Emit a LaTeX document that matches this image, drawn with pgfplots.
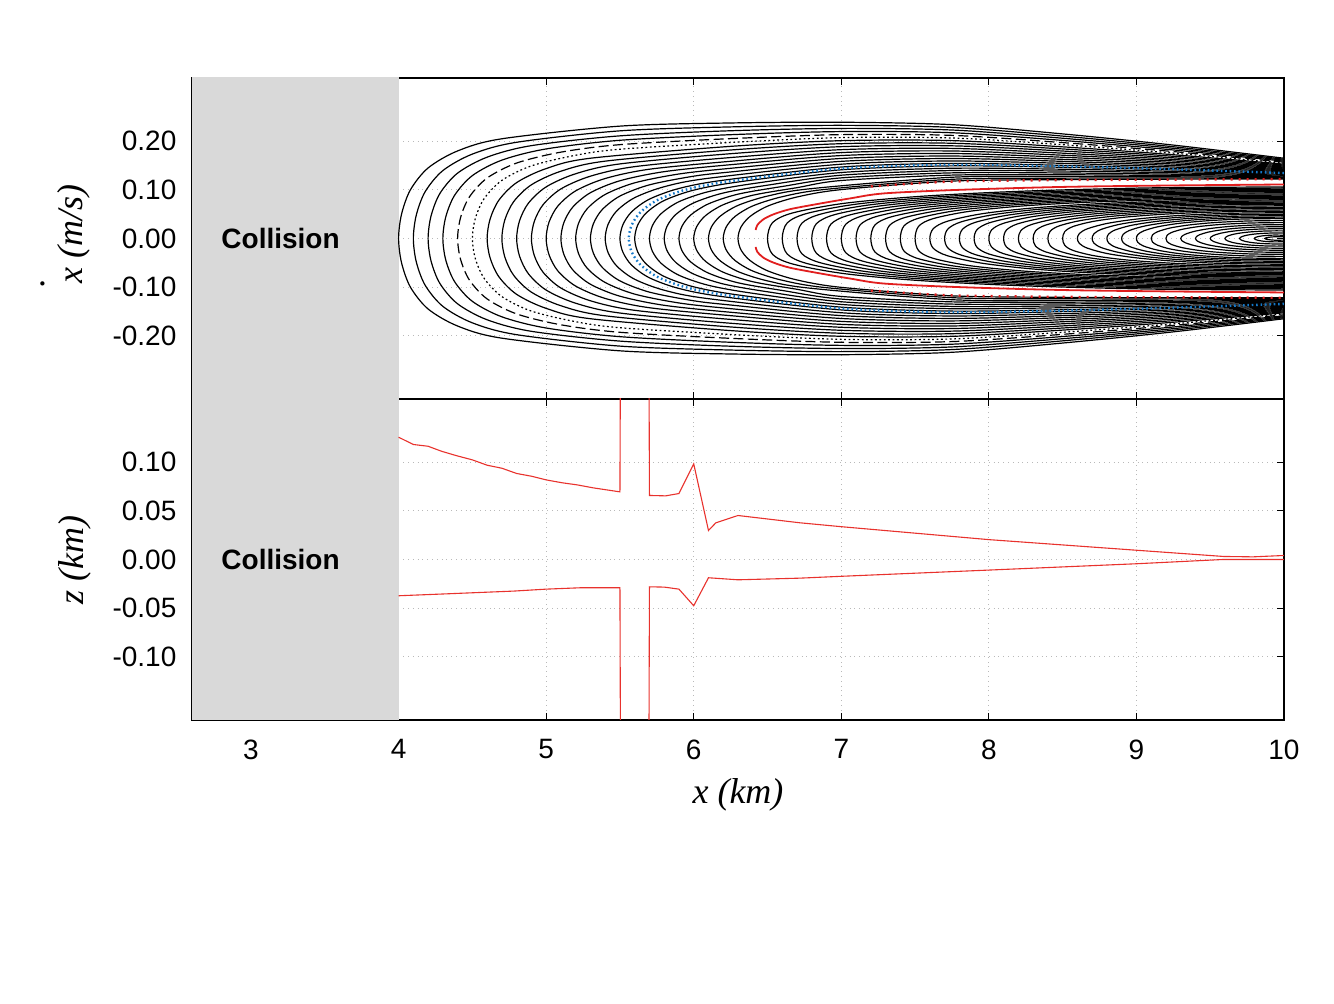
\documentclass[border=0pt]{standalone}
\usepackage{fontspec}
\setmainfont{Liberation Sans}
\newfontfamily\tnr{Liberation Serif}
\usepackage{pgfplots}
\pgfplotsset{compat=1.18}
\definecolor{collgray}{RGB}{217,217,217}
\definecolor{sepred}{RGB}{225,30,30}
\definecolor{blu}{RGB}{20,120,200}
\definecolor{zred}{RGB}{232,50,45}
\pgfplotsset{
 panel/.style={scale only axis, width=546pt, height=160.5pt, xmin=2.6, xmax=10,
   xtick={3,4,5,6,7,8,9,10}, grid=major,
   grid style={dotted, gray!55, line width=0.5pt},
   major tick length=3.5pt, tick style={black, line width=0.5pt},
   axis line style={line width=0.7pt},
   tick label style={font=\fontsize{14}{16}\selectfont},
   yticklabel style={xshift=-4.3pt}, xticklabel style={yshift=-6.3pt}},
 oc/.style={black, line width=0.6pt, smooth, no markers},
}
\begin{document}
\begin{tikzpicture}
\path (0,0) rectangle (667pt,502pt);
% ---------------- top panel ----------------
\begin{axis}[panel, at={(96pt,302.5pt)}, anchor=south west,
  ymin=-0.33, ymax=0.33, ytick={-0.2,-0.1,0,0.1,0.2},
  yticklabels={-0.20,-0.10,0.00,0.10,0.20}, xticklabels={}]
\addplot[fill=collgray, draw=none] coordinates {(2.5,-1) (4,-1) (4,1) (2.5,1)};
% outer family
\addplot[oc] coordinates {(10,0.165) (9.25,0.192) (8.5,0.215) (7.75,0.234) (7,0.239) (6.25,0.2375) (5.5,0.231) (4.7,0.205) (4.4,0.18) (4.2,0.145) (4.08,0.1) (4.02,0.05) (4,0) (4.02,-0.05) (4.08,-0.1) (4.2,-0.145) (4.4,-0.18) (4.7,-0.205) (5.5,-0.231) (6.25,-0.2375) (7,-0.239) (7.75,-0.234) (8.5,-0.215) (9.25,-0.192) (10,-0.165)};
\addplot[oc] coordinates {(10,0.1629) (9.25,0.1886) (8.5,0.2105) (7.75,0.2284) (7,0.2326) (6.25,0.2294) (5.5,0.2213) (4.8,0.1978) (4.5,0.1735) (4.3,0.1396) (4.18,0.0962) (4.12,0.0482) (4.1,0) (4.12,-0.0482) (4.18,-0.0962) (4.3,-0.1396) (4.5,-0.1735) (4.8,-0.1978) (5.5,-0.2213) (6.25,-0.2294) (7,-0.2326) (7.75,-0.2284) (8.5,-0.2105) (9.25,-0.1886) (10,-0.1629)};
\addplot[oc] coordinates {(10,0.1609) (9.25,0.1854) (8.5,0.2061) (7.75,0.2230) (7,0.2263) (6.25,0.2215) (5.5,0.2110) (4.9,0.1909) (4.6,0.1672) (4.4,0.1344) (4.28,0.0926) (4.22,0.0464) (4.2,0) (4.22,-0.0464) (4.28,-0.0926) (4.4,-0.1344) (4.6,-0.1672) (4.9,-0.1909) (5.5,-0.2110) (6.25,-0.2215) (7,-0.2263) (7.75,-0.2230) (8.5,-0.2061) (9.25,-0.1854) (10,-0.1609)};
\addplot[oc] coordinates {(10,0.1589) (9.25,0.1820) (8.5,0.2016) (7.75,0.2174) (7,0.2198) (6.25,0.2134) (5.5,0.2019) (5.0,0.1841) (4.7,0.1611) (4.5,0.1293) (4.38,0.0890) (4.32,0.0447) (4.3,0) (4.32,-0.0447) (4.38,-0.0890) (4.5,-0.1293) (4.7,-0.1611) (5.0,-0.1841) (5.5,-0.2019) (6.25,-0.2134) (7,-0.2198) (7.75,-0.2174) (8.5,-0.2016) (9.25,-0.1820) (10,-0.1589)};
\addplot[oc, dash pattern=on 5pt off 2.2pt] coordinates {(10,0.1568) (9.25,0.1787) (8.5,0.1971) (7.75,0.2120) (7,0.2135) (6.25,0.2053) (5.5,0.1929) (5.1,0.1775) (4.8,0.1551) (4.6,0.1243) (4.48,0.0855) (4.42,0.0430) (4.4,0) (4.42,-0.0430) (4.48,-0.0855) (4.6,-0.1243) (4.8,-0.1551) (5.1,-0.1775) (5.5,-0.1929) (6.25,-0.2053) (7,-0.2135) (7.75,-0.2120) (8.5,-0.1971) (9.25,-0.1787) (10,-0.1568)};
\addplot[oc, dash pattern=on 0.9pt off 1.3pt] coordinates {(10,0.1549) (9.25,0.1755) (8.5,0.1928) (7.75,0.2066) (7,0.2074) (6.25,0.1974) (5.5,0.1835) (5.2,0.1711) (4.9,0.1493) (4.7,0.1195) (4.58,0.0821) (4.52,0.0413) (4.5,0) (4.52,-0.0413) (4.58,-0.0821) (4.7,-0.1195) (4.9,-0.1493) (5.2,-0.1711) (5.5,-0.1835) (6.25,-0.1974) (7,-0.2074) (7.75,-0.2066) (8.5,-0.1928) (9.25,-0.1755) (10,-0.1549)};
\addplot[oc] coordinates {(10,0.1528) (9.25,0.1722) (8.5,0.1884) (7.75,0.2012) (7,0.2011) (6.25,0.1894) (5.3,0.1650) (5.0,0.1437) (4.8,0.1149) (4.68,0.0789) (4.62,0.0398) (4.6,0) (4.62,-0.0398) (4.68,-0.0789) (4.8,-0.1149) (5.0,-0.1437) (5.3,-0.1650) (6.25,-0.1894) (7,-0.2011) (7.75,-0.2012) (8.5,-0.1884) (9.25,-0.1722) (10,-0.1528)};
\addplot[oc] coordinates {(10,0.1509) (9.25,0.1690) (8.5,0.1841) (7.75,0.1958) (7,0.1949) (6.25,0.1819) (5.4,0.1590) (5.1,0.1383) (4.9,0.1104) (4.78,0.0758) (4.72,0.0383) (4.7,0) (4.72,-0.0383) (4.78,-0.0758) (4.9,-0.1104) (5.1,-0.1383) (5.4,-0.1590) (6.25,-0.1819) (7,-0.1949) (7.75,-0.1958) (8.5,-0.1841) (9.25,-0.1690) (10,-0.1509)};
\addplot[oc] coordinates {(10,0.1489) (9.25,0.1658) (8.5,0.1798) (7.75,0.1905) (7,0.1888) (6.25,0.1743) (5.5,0.1533) (5.2,0.1331) (5.0,0.1061) (4.88,0.0727) (4.82,0.0368) (4.8,0) (4.82,-0.0368) (4.88,-0.0727) (5.0,-0.1061) (5.2,-0.1331) (5.5,-0.1533) (6.25,-0.1743) (7,-0.1888) (7.75,-0.1905) (8.5,-0.1798) (9.25,-0.1658) (10,-0.1489)};
\addplot[oc] coordinates {(10,0.1469) (9.25,0.1625) (8.5,0.1754) (7.75,0.1852) (7,0.1826) (6.25,0.1664) (5.6,0.1477) (5.3,0.1281) (5.1,0.1019) (4.98,0.0698) (4.92,0.0354) (4.9,0) (4.92,-0.0354) (4.98,-0.0698) (5.1,-0.1019) (5.3,-0.1281) (5.6,-0.1477) (6.25,-0.1664) (7,-0.1826) (7.75,-0.1852) (8.5,-0.1754) (9.25,-0.1625) (10,-0.1469)};
\addplot[oc] coordinates {(10,0.1450) (9.25,0.1594) (8.5,0.1712) (7.75,0.1799) (7,0.1766) (6.25,0.1587) (5.7,0.1424) (5.4,0.1233) (5.2,0.0979) (5.08,0.0670) (5.02,0.0340) (5,0) (5.02,-0.0340) (5.08,-0.0670) (5.2,-0.0979) (5.4,-0.1233) (5.7,-0.1424) (6.25,-0.1587) (7,-0.1766) (7.75,-0.1799) (8.5,-0.1712) (9.25,-0.1594) (10,-0.1450)};
\addplot[oc] coordinates {(10,0.1430) (9.25,0.1562) (8.5,0.1670) (7.75,0.1747) (7,0.1705) (6.25,0.1517) (5.8,0.1374) (5.5,0.1187) (5.3,0.0941) (5.18,0.0644) (5.12,0.0327) (5.1,0) (5.12,-0.0327) (5.18,-0.0644) (5.3,-0.0941) (5.5,-0.1187) (5.8,-0.1374) (6.25,-0.1517) (7,-0.1705) (7.75,-0.1747) (8.5,-0.1670) (9.25,-0.1562) (10,-0.1430)};
\addplot[oc] coordinates {(10,0.1411) (9.25,0.1531) (8.5,0.1627) (7.75,0.1695) (7,0.1645) (6.25,0.1443) (5.9,0.1326) (5.6,0.1144) (5.4,0.0905) (5.28,0.0618) (5.22,0.0315) (5.2,0) (5.22,-0.0315) (5.28,-0.0618) (5.4,-0.0905) (5.6,-0.1144) (5.9,-0.1326) (6.25,-0.1443) (7,-0.1645) (7.75,-0.1695) (8.5,-0.1627) (9.25,-0.1531) (10,-0.1411)};
\addplot[oc] coordinates {(10,0.1392) (9.25,0.1500) (8.5,0.1586) (7.75,0.1644) (7,0.1586) (6.25,0.1368) (6.0,0.1281) (5.7,0.1103) (5.5,0.0872) (5.38,0.0594) (5.32,0.0303) (5.3,0) (5.32,-0.0303) (5.38,-0.0594) (5.5,-0.0872) (5.7,-0.1103) (6.0,-0.1281) (6.25,-0.1368) (7,-0.1586) (7.75,-0.1644) (8.5,-0.1586) (9.25,-0.1500) (10,-0.1392)};
\addplot[oc] coordinates {(10,0.1373) (9.25,0.1469) (8.5,0.1545) (7.75,0.1593) (7,0.1527) (6.1,0.1238) (5.8,0.1064) (5.6,0.0839) (5.48,0.0572) (5.42,0.0293) (5.4,0) (5.42,-0.0293) (5.48,-0.0572) (5.6,-0.0839) (5.8,-0.1064) (6.1,-0.1238) (7,-0.1527) (7.75,-0.1593) (8.5,-0.1545) (9.25,-0.1469) (10,-0.1373)};
\addplot[oc] coordinates {(10,0.1355) (9.25,0.1439) (8.5,0.1504) (7.75,0.1543) (7,0.1469) (6.2,0.1198) (5.9,0.1028) (5.7,0.0809) (5.58,0.0551) (5.52,0.0282) (5.5,0) (5.52,-0.0282) (5.58,-0.0551) (5.7,-0.0809) (5.9,-0.1028) (6.2,-0.1198) (7,-0.1469) (7.75,-0.1543) (8.5,-0.1504) (9.25,-0.1439) (10,-0.1355)};
\addplot[oc] coordinates {(10,0.1336) (9.25,0.1409) (8.5,0.1464) (7.75,0.1493) (7,0.1412) (6.3,0.1161) (6.0,0.0994) (5.8,0.0781) (5.68,0.0531) (5.62,0.0273) (5.6,0) (5.62,-0.0273) (5.68,-0.0531) (5.8,-0.0781) (6.0,-0.0994) (6.3,-0.1161) (7,-0.1412) (7.75,-0.1493) (8.5,-0.1464) (9.25,-0.1409) (10,-0.1336)};
\addplot[oc] coordinates {(10,0.1318) (9.25,0.1380) (8.5,0.1424) (7.75,0.1444) (7,0.1356) (6.4,0.1127) (6.1,0.0963) (5.9,0.0756) (5.78,0.0513) (5.72,0.0264) (5.7,0) (5.72,-0.0264) (5.78,-0.0513) (5.9,-0.0756) (6.1,-0.0963) (6.4,-0.1127) (7,-0.1356) (7.75,-0.1444) (8.5,-0.1424) (9.25,-0.1380) (10,-0.1318)};
\addplot[oc] coordinates {(10,0.1300) (9.25,0.1351) (8.5,0.1386) (7.75,0.1397) (7,0.1301) (6.5,0.1096) (6.2,0.0935) (6.0,0.0732) (5.88,0.0497) (5.82,0.0256) (5.8,0) (5.82,-0.0256) (5.88,-0.0497) (6.0,-0.0732) (6.2,-0.0935) (6.5,-0.1096) (7,-0.1301) (7.75,-0.1397) (8.5,-0.1386) (9.25,-0.1351) (10,-0.1300)};
\addplot[oc] coordinates {(10,0.1283) (9.25,0.1322) (8.5,0.1347) (7.75,0.1349) (7,0.1246) (6.6,0.1069) (6.3,0.0911) (6.1,0.0712) (5.98,0.0483) (5.92,0.0249) (5.9,0) (5.92,-0.0249) (5.98,-0.0483) (6.1,-0.0712) (6.3,-0.0911) (6.6,-0.1069) (7,-0.1246) (7.75,-0.1349) (8.5,-0.1347) (9.25,-0.1322) (10,-0.1283)};
\addplot[oc] coordinates {(10,0.1266) (9.25,0.1294) (8.5,0.1310) (7.75,0.1303) (7,0.1192) (6.7,0.1045) (6.4,0.0889) (6.2,0.0694) (6.08,0.0470) (6.02,0.0243) (6,0) (6.02,-0.0243) (6.08,-0.0470) (6.2,-0.0694) (6.4,-0.0889) (6.7,-0.1045) (7,-0.1192) (7.75,-0.1303) (8.5,-0.1310) (9.25,-0.1294) (10,-0.1266)};
\addplot[oc] coordinates {(10,0.1249) (9.25,0.1268) (8.5,0.1274) (7.75,0.1259) (6.8,0.1026) (6.5,0.0872) (6.3,0.0680) (6.18,0.0460) (6.12,0.0238) (6.1,0) (6.12,-0.0238) (6.18,-0.0460) (6.3,-0.0680) (6.5,-0.0872) (6.8,-0.1026) (7.75,-0.1259) (8.5,-0.1274) (9.25,-0.1268) (10,-0.1249)};
\addplot[oc] coordinates {(10,0.1234) (9.25,0.1242) (8.5,0.1240) (7.75,0.1217) (6.9,0.1012) (6.6,0.0859) (6.4,0.0669) (6.28,0.0453) (6.22,0.0235) (6.2,0) (6.22,-0.0235) (6.28,-0.0453) (6.4,-0.0669) (6.6,-0.0859) (6.9,-0.1012) (7.75,-0.1217) (8.5,-0.1240) (9.25,-0.1242) (10,-0.1234)};
\addplot[oc] coordinates {(10,0.122) (9.25,0.122) (8.5,0.121) (7.75,0.118) (7.0,0.1005) (6.7,0.0853) (6.5,0.0664) (6.38,0.0449) (6.32,0.0233) (6.3,0) (6.32,-0.0233) (6.38,-0.0449) (6.5,-0.0664) (6.7,-0.0853) (7.0,-0.1005) (7.75,-0.118) (8.5,-0.121) (9.25,-0.122) (10,-0.122)};
% inner family
\addplot[oc] coordinates {(10,0.106) (9.0875,0.1040) (8.225,0.0972) (7.535,0.0866) (7.0175,0.0722) (6.6725,0.0527) (6.5345,0.0328) (6.5,0) (6.5345,-0.0328) (6.6725,-0.0527) (7.0175,-0.0722) (7.535,-0.0866) (8.225,-0.0972) (9.0875,-0.1040) (10,-0.106)};
\addplot[oc] coordinates {(10,0.1036) (9.1125,0.1016) (8.275,0.0950) (7.605,0.0846) (7.1025,0.0706) (6.7675,0.0515) (6.6335,0.0320) (6.6,0) (6.6335,-0.0320) (6.7675,-0.0515) (7.1025,-0.0706) (7.605,-0.0846) (8.275,-0.0950) (9.1125,-0.1016) (10,-0.1036)};
\addplot[oc] coordinates {(10,0.1012) (9.1375,0.0993) (8.325,0.0928) (7.675,0.0827) (7.1875,0.0689) (6.8625,0.0503) (6.7325,0.0313) (6.7,0) (6.7325,-0.0313) (6.8625,-0.0503) (7.1875,-0.0689) (7.675,-0.0827) (8.325,-0.0928) (9.1375,-0.0993) (10,-0.1012)};
\addplot[oc] coordinates {(10,0.0988) (9.1625,0.0969) (8.375,0.0906) (7.745,0.0807) (7.2725,0.0673) (6.9575,0.0492) (6.8315,0.0305) (6.8,0) (6.8315,-0.0305) (6.9575,-0.0492) (7.2725,-0.0673) (7.745,-0.0807) (8.375,-0.0906) (9.1625,-0.0969) (10,-0.0988)};
\addplot[oc] coordinates {(10,0.0964) (9.1875,0.0946) (8.425,0.0884) (7.815,0.0788) (7.3575,0.0656) (7.0525,0.0480) (6.9305,0.0298) (6.9,0) (6.9305,-0.0298) (7.0525,-0.0480) (7.3575,-0.0656) (7.815,-0.0788) (8.425,-0.0884) (9.1875,-0.0946) (10,-0.0964)};
\addplot[oc] coordinates {(10,0.094) (9.2125,0.0922) (8.475,0.0862) (7.885,0.0768) (7.4425,0.0640) (7.1475,0.0468) (7.0295,0.0290) (7.0,0) (7.0295,-0.0290) (7.1475,-0.0468) (7.4425,-0.0640) (7.885,-0.0768) (8.475,-0.0862) (9.2125,-0.0922) (10,-0.094)};
\addplot[oc] coordinates {(10,0.0916) (9.2375,0.0899) (8.525,0.0840) (7.955,0.0748) (7.5275,0.0624) (7.2425,0.0456) (7.1285,0.0283) (7.1,0) (7.1285,-0.0283) (7.2425,-0.0456) (7.5275,-0.0624) (7.955,-0.0748) (8.525,-0.0840) (9.2375,-0.0899) (10,-0.0916)};
\addplot[oc] coordinates {(10,0.0892) (9.2625,0.0875) (8.575,0.0818) (8.025,0.0729) (7.6125,0.0607) (7.3375,0.0444) (7.2275,0.0276) (7.2,0) (7.2275,-0.0276) (7.3375,-0.0444) (7.6125,-0.0607) (8.025,-0.0729) (8.575,-0.0818) (9.2625,-0.0875) (10,-0.0892)};
\addplot[oc] coordinates {(10,0.0868) (9.2875,0.0852) (8.625,0.0796) (8.095,0.0709) (7.6975,0.0591) (7.4325,0.0432) (7.3265,0.0268) (7.3,0) (7.3265,-0.0268) (7.4325,-0.0432) (7.6975,-0.0591) (8.095,-0.0709) (8.625,-0.0796) (9.2875,-0.0852) (10,-0.0868)};
\addplot[oc] coordinates {(10,0.0844) (9.3125,0.0828) (8.675,0.0774) (8.165,0.0690) (7.7825,0.0575) (7.5275,0.0420) (7.4255,0.0261) (7.4,0) (7.4255,-0.0261) (7.5275,-0.0420) (7.7825,-0.0575) (8.165,-0.0690) (8.675,-0.0774) (9.3125,-0.0828) (10,-0.0844)};
\addplot[oc] coordinates {(10,0.082) (9.3375,0.0804) (8.725,0.0752) (8.235,0.0670) (7.8675,0.0558) (7.6225,0.0408) (7.5245,0.0253) (7.5,0) (7.5245,-0.0253) (7.6225,-0.0408) (7.8675,-0.0558) (8.235,-0.0670) (8.725,-0.0752) (9.3375,-0.0804) (10,-0.082)};
\addplot[oc] coordinates {(10,0.0796) (9.3625,0.0778) (8.775,0.0720) (8.305,0.0629) (7.9525,0.0508) (7.7175,0.0353) (7.6235,0.0202) (7.6,0) (7.6235,-0.0202) (7.7175,-0.0353) (7.9525,-0.0508) (8.305,-0.0629) (8.775,-0.0720) (9.3625,-0.0778) (10,-0.0796)};
\addplot[oc] coordinates {(10,0.0772) (9.3875,0.0755) (8.825,0.0698) (8.375,0.0610) (8.0375,0.0493) (7.8125,0.0342) (7.7225,0.0196) (7.7,0) (7.7225,-0.0196) (7.8125,-0.0342) (8.0375,-0.0493) (8.375,-0.0610) (8.825,-0.0698) (9.3875,-0.0755) (10,-0.0772)};
\addplot[oc] coordinates {(10,0.0748) (9.4125,0.0732) (8.875,0.0676) (8.445,0.0591) (8.1225,0.0477) (7.9075,0.0331) (7.8215,0.0190) (7.8,0) (7.8215,-0.0190) (7.9075,-0.0331) (8.1225,-0.0477) (8.445,-0.0591) (8.875,-0.0676) (9.4125,-0.0732) (10,-0.0748)};
\addplot[oc] coordinates {(10,0.0724) (9.4375,0.0708) (8.925,0.0654) (8.515,0.0572) (8.2075,0.0462) (8.0025,0.0321) (7.9205,0.0184) (7.9,0) (7.9205,-0.0184) (8.0025,-0.0321) (8.2075,-0.0462) (8.515,-0.0572) (8.925,-0.0654) (9.4375,-0.0708) (10,-0.0724)};
\addplot[oc] coordinates {(10,0.070) (9.4625,0.0685) (8.975,0.0633) (8.585,0.0553) (8.2925,0.0447) (8.0975,0.0310) (8.0195,0.0178) (8.0,0) (8.0195,-0.0178) (8.0975,-0.0310) (8.2925,-0.0447) (8.585,-0.0553) (8.975,-0.0633) (9.4625,-0.0685) (10,-0.070)};
\addplot[oc] coordinates {(10,0.0672) (9.4875,0.0657) (9.025,0.0607) (8.655,0.0531) (8.3775,0.0429) (8.1925,0.0298) (8.1185,0.0171) (8.1,0) (8.1185,-0.0171) (8.1925,-0.0298) (8.3775,-0.0429) (8.655,-0.0531) (9.025,-0.0607) (9.4875,-0.0657) (10,-0.0672)};
\addplot[oc] coordinates {(10,0.0644) (9.5125,0.0630) (9.075,0.0582) (8.725,0.0509) (8.4625,0.0411) (8.2875,0.0285) (8.2175,0.0164) (8.2,0) (8.2175,-0.0164) (8.2875,-0.0285) (8.4625,-0.0411) (8.725,-0.0509) (9.075,-0.0582) (9.5125,-0.0630) (10,-0.0644)};
\addplot[oc] coordinates {(10,0.0616) (9.5375,0.0602) (9.125,0.0557) (8.795,0.0487) (8.5475,0.0393) (8.3825,0.0273) (8.3165,0.0156) (8.3,0) (8.3165,-0.0156) (8.3825,-0.0273) (8.5475,-0.0393) (8.795,-0.0487) (9.125,-0.0557) (9.5375,-0.0602) (10,-0.0616)};
\addplot[oc] coordinates {(10,0.0588) (9.5625,0.0575) (9.175,0.0532) (8.865,0.0465) (8.6325,0.0375) (8.4775,0.0260) (8.4155,0.0149) (8.4,0) (8.4155,-0.0149) (8.4775,-0.0260) (8.6325,-0.0375) (8.865,-0.0465) (9.175,-0.0532) (9.5625,-0.0575) (10,-0.0588)};
\addplot[oc] coordinates {(10,0.056) (9.5875,0.0548) (9.225,0.0506) (8.935,0.0442) (8.7175,0.0357) (8.5725,0.0248) (8.5145,0.0142) (8.5,0) (8.5145,-0.0142) (8.5725,-0.0248) (8.7175,-0.0357) (8.935,-0.0442) (9.225,-0.0506) (9.5875,-0.0548) (10,-0.056)};
\addplot[oc] coordinates {(10,0.053) (9.6125,0.0516) (9.275,0.0470) (9.005,0.0400) (8.8025,0.0310) (8.6675,0.0199) (8.6135,0.0102) (8.6,0) (8.6135,-0.0102) (8.6675,-0.0199) (8.8025,-0.0310) (9.005,-0.0400) (9.275,-0.0470) (9.6125,-0.0516) (10,-0.053)};
\addplot[oc] coordinates {(10,0.05) (9.6375,0.0487) (9.325,0.0443) (9.075,0.0377) (8.8875,0.0292) (8.7625,0.0188) (8.7125,0.0097) (8.7,0) (8.7125,-0.0097) (8.7625,-0.0188) (8.8875,-0.0292) (9.075,-0.0377) (9.325,-0.0443) (9.6375,-0.0487) (10,-0.05)};
\addplot[oc] coordinates {(10,0.047) (9.6625,0.0457) (9.375,0.0416) (9.145,0.0354) (8.9725,0.0274) (8.8575,0.0177) (8.8115,0.0091) (8.8,0) (8.8115,-0.0091) (8.8575,-0.0177) (8.9725,-0.0274) (9.145,-0.0354) (9.375,-0.0416) (9.6625,-0.0457) (10,-0.047)};
\addplot[oc] coordinates {(10,0.044) (9.6875,0.0428) (9.425,0.0390) (9.215,0.0332) (9.0575,0.0257) (8.9525,0.0165) (8.9105,0.0085) (8.9,0) (8.9105,-0.0085) (8.9525,-0.0165) (9.0575,-0.0257) (9.215,-0.0332) (9.425,-0.0390) (9.6875,-0.0428) (10,-0.044)};
\addplot[oc] coordinates {(10,0.041) (9.7125,0.0399) (9.475,0.0363) (9.285,0.0309) (9.1425,0.0239) (9.0475,0.0154) (9.0095,0.0079) (9.0,0) (9.0095,-0.0079) (9.0475,-0.0154) (9.1425,-0.0239) (9.285,-0.0309) (9.475,-0.0363) (9.7125,-0.0399) (10,-0.041)};
\addplot[oc] coordinates {(10,0.0367) (9.95,0.0368) (9.7375,0.0358) (9.525,0.0326) (9.355,0.0277) (9.2275,0.0215) (9.1425,0.0138) (9.1085,0.0071) (9.1,0) (9.1085,-0.0071) (9.1425,-0.0138) (9.2275,-0.0215) (9.355,-0.0277) (9.525,-0.0326) (9.7375,-0.0358) (9.95,-0.0368) (10,-0.0367)};
\addplot[oc] coordinates {(10,0.0325) (9.95,0.0326) (9.7625,0.0317) (9.575,0.0289) (9.425,0.0246) (9.3125,0.0190) (9.2375,0.0123) (9.2075,0.0063) (9.2,0) (9.2075,-0.0063) (9.2375,-0.0123) (9.3125,-0.0190) (9.425,-0.0246) (9.575,-0.0289) (9.7625,-0.0317) (9.95,-0.0326) (10,-0.0325)};
\addplot[oc] coordinates {(10,0.0283) (9.95,0.0284) (9.7875,0.0275) (9.625,0.0246) (9.495,0.0203) (9.3975,0.0150) (9.3325,0.0089) (9.3065,0.0040) (9.3,0) (9.3065,-0.0040) (9.3325,-0.0089) (9.3975,-0.0150) (9.495,-0.0203) (9.625,-0.0246) (9.7875,-0.0275) (9.95,-0.0284) (10,-0.0283)};
\addplot[oc] coordinates {(10,0.0241) (9.95,0.0242) (9.8125,0.0234) (9.675,0.0210) (9.565,0.0173) (9.4825,0.0128) (9.4275,0.0076) (9.4055,0.0034) (9.4,0) (9.4055,-0.0034) (9.4275,-0.0076) (9.4825,-0.0128) (9.565,-0.0173) (9.675,-0.0210) (9.8125,-0.0234) (9.95,-0.0242) (10,-0.0241)};
\addplot[oc] coordinates {(10,0.0199) (9.95,0.0200) (9.8375,0.0194) (9.725,0.0173) (9.635,0.0143) (9.5675,0.0105) (9.5225,0.0062) (9.5045,0.0028) (9.5,0) (9.5045,-0.0028) (9.5225,-0.0062) (9.5675,-0.0105) (9.635,-0.0143) (9.725,-0.0173) (9.8375,-0.0194) (9.95,-0.0200) (10,-0.0199)};
\addplot[oc] coordinates {(10,0.0155) (9.95,0.0157) (9.8625,0.0152) (9.775,0.0136) (9.705,0.0112) (9.6525,0.0083) (9.6175,0.0049) (9.6035,0.0022) (9.6,0) (9.6035,-0.0022) (9.6175,-0.0049) (9.6525,-0.0083) (9.705,-0.0112) (9.775,-0.0136) (9.8625,-0.0152) (9.95,-0.0157) (10,-0.0155)};
\addplot[oc] coordinates {(10,0.0111) (9.95,0.0113) (9.8875,0.0109) (9.825,0.0098) (9.775,0.0081) (9.7375,0.0060) (9.7125,0.0035) (9.7025,0.0016) (9.7,0) (9.7025,-0.0016) (9.7125,-0.0035) (9.7375,-0.0060) (9.775,-0.0081) (9.825,-0.0098) (9.8875,-0.0109) (9.95,-0.0113) (10,-0.0111)};
\addplot[oc] coordinates {(10,0.0066) (9.95,0.0070) (9.9125,0.0068) (9.875,0.0061) (9.845,0.0050) (9.8225,0.0037) (9.8075,0.0022) (9.8015,0.0010) (9.8,0) (9.8015,-0.0010) (9.8075,-0.0022) (9.8225,-0.0037) (9.845,-0.0050) (9.875,-0.0061) (9.9125,-0.0068) (9.95,-0.0070) (10,-0.0066)};
\addplot[oc] coordinates {(10,0.0033) (9.95,0.0036) (9.92,0.0032) (9.895,0.0024) (9.877,0.0013) (9.87,0) (9.877,-0.0013) (9.895,-0.0024) (9.92,-0.0032) (9.95,-0.0036) (10,-0.0033)};
% blue chaotic orbit
\addplot[blu, line width=1.2pt, smooth, dash pattern=on 0.8pt off 1.4pt] coordinates {(10,0.1345) (9.25,0.1423) (8.5,0.1483) (7.75,0.1516) (7,0.1439) (6.26,0.1183) (5.96,0.1014) (5.76,0.0798) (5.64,0.0543) (5.58,0.0278) (5.56,0) (5.58,-0.0278) (5.64,-0.0543) (5.76,-0.0798) (5.96,-0.1014) (6.26,-0.1183) (7,-0.1439) (7.75,-0.1516) (8.5,-0.1483) (9.25,-0.1423) (10,-0.1345)};
% red separatrix
\addplot[sepred, line width=0.9pt, smooth] coordinates {(10,0.111) (9.25,0.109) (8.5,0.106) (7.8,0.100) (7.29,0.0927) (7.06,0.0824) (6.835,0.0707) (6.65,0.060) (6.54,0.0496) (6.47,0.039) (6.43,0.027) (6.42,0.0174)};
\addplot[sepred, line width=0.9pt, smooth] coordinates {(6.42,-0.0174) (6.43,-0.027) (6.47,-0.039) (6.54,-0.0496) (6.65,-0.060) (6.835,-0.0707) (7.06,-0.0824) (7.29,-0.0927) (7.8,-0.100) (8.5,-0.106) (9.25,-0.109) (10,-0.111)};
\addplot[sepred, line width=1.2pt, smooth, dash pattern=on 1pt off 3pt] coordinates {(7.2,0.107) (7.75,0.117) (8.5,0.120) (9.25,0.121) (10,0.122)};
\addplot[sepred, line width=1.2pt, smooth, dash pattern=on 1pt off 3pt] coordinates {(7.2,-0.107) (7.75,-0.117) (8.5,-0.120) (9.25,-0.121) (10,-0.122)};
\node[font=\fontsize{14}{16}\selectfont\bfseries] at (axis cs:3.2,0) {Collision};
\end{axis}
% ---------------- bottom panel ----------------
\begin{axis}[panel, at={(96pt,142pt)}, anchor=south west,
  ymin=-0.165, ymax=0.165, ytick={-0.1,-0.05,0,0.05,0.1},
  yticklabels={-0.10,-0.05,0.00,0.05,0.10},
  xticklabels={3,4,5,6,7,8,9,10}]
\addplot[fill=collgray, draw=none] coordinates {(2.5,-1) (4,-1) (4,1) (2.5,1)};
\addplot[zred, line width=0.55pt] coordinates {(4.00,0.1257) (4.10,0.1182) (4.20,0.1164) (4.29,0.1113) (4.39,0.1068) (4.50,0.1024) (4.60,0.0969) (4.70,0.0938) (4.80,0.0884) (4.90,0.0856) (5.00,0.0818) (5.11,0.0788) (5.21,0.0767) (5.32,0.0736) (5.50,0.0695) (5.51,0.5) (5.69,0.5) (5.70,0.0658) (5.81,0.0654) (5.90,0.0678) (6.00,0.0983) (6.10,0.0298) (6.15,0.0377) (6.30,0.0452) (6.72,0.0377) (7.0,0.0337) (8.0,0.0204) (9.0,0.0095) (9.59,0.0031) (9.79,0.0027) (10,0.0041)};
\addplot[zred, line width=0.55pt] coordinates {(4.00,-0.0373) (4.33,-0.0353) (4.78,-0.0325) (5.00,-0.0305) (5.23,-0.0291) (5.50,-0.0291) (5.51,-0.5) (5.69,-0.5) (5.70,-0.0281) (5.80,-0.0284) (5.90,-0.0305) (6.00,-0.0476) (6.10,-0.0188) (6.30,-0.0209) (6.72,-0.0192) (7.0,-0.0173) (8.0,-0.0109) (9.0,-0.0044) (9.59,0.0) (10,0.0)};
\node[font=\fontsize{14}{16}\selectfont\bfseries] at (axis cs:3.2,0) {Collision};
\end{axis}
\node[rotate=90, font=\fontsize{18}{20}\selectfont\tnr\itshape] at (37pt,385pt) {\makebox[0pt][l]{\hspace{-0.12em}\smash{\raisebox{1.06em}{.}}}x (m/s)};
\node[rotate=90, font=\fontsize{18}{20}\selectfont\tnr\itshape] at (37.5pt,222pt) {z (km)};
\node[font=\fontsize{18}{20}\selectfont\tnr\itshape] at (369pt,104.5pt) {x (km)};
\end{tikzpicture}
\end{document}
